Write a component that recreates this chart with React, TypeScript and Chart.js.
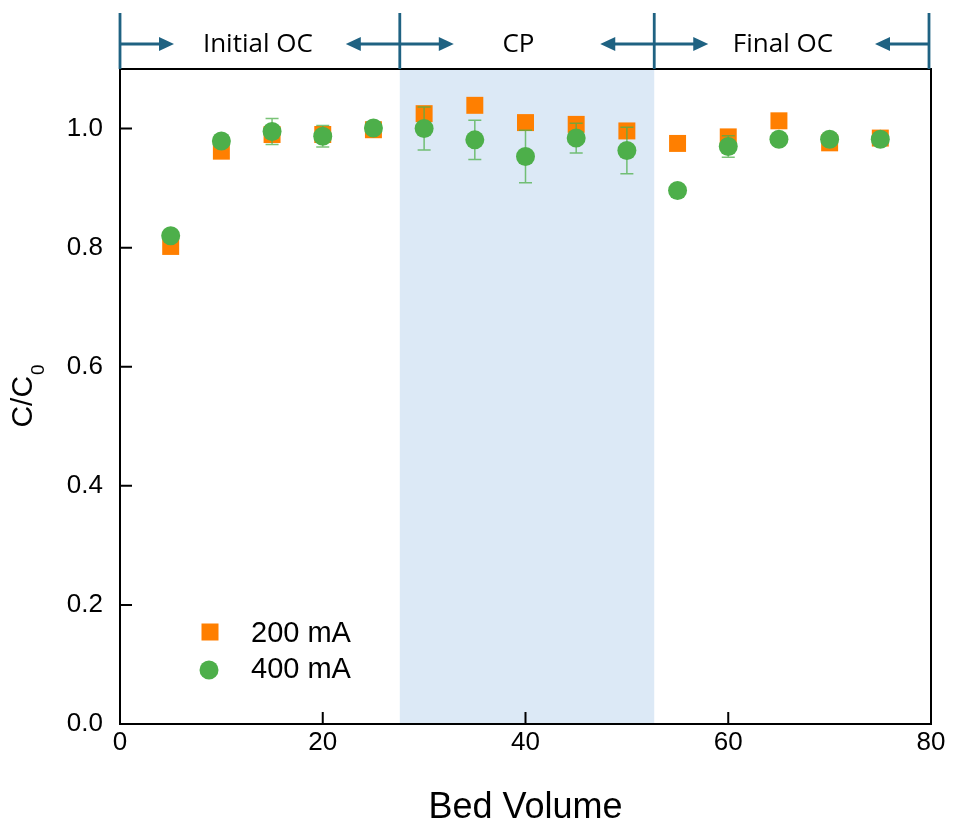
import React, { useEffect, useRef } from 'react';
import { Chart, registerables } from 'chart.js';

Chart.register(...registerables);

// ---- data ----
const bedVolume = [5, 10, 15, 20, 25, 30, 35, 40, 45, 50, 55, 60, 65, 70, 75];
const ma200 = [0.802, 0.962, 0.99, 0.99, 0.998, 1.025, 1.039, 1.01, 1.007, 0.996, 0.975, 0.986, 1.013, 0.976, 0.984];
const ma400 = [0.82, 0.979, 0.995, 0.987, 1.001, 1.0, 0.981, 0.953, 0.984, 0.963, 0.896, 0.97, 0.982, 0.982, 0.982];
const ma400Err = [0, 0, 0.022, 0.018, 0, 0.036, 0.033, 0.044, 0.025, 0.039, 0, 0.018, 0, 0, 0];
const seriesLabels = ['200 mA', '400 mA'];
const xTicks = [0, 20, 40, 60, 80];
const yTicks = [0, 0.2, 0.4, 0.6, 0.8, 1.0];
const phaseBounds = [0, 27.6, 52.7, 80];
const phaseLabels = ['Initial OC', 'CP', 'Final OC'];
const phaseLabelX = [13.6, 39.3, 65.4];
const xTitle = 'Bed Volume';
const yTitleMain = 'C/C';
const yTitleSub = '0';

const ORANGE = '#ff7f00';
const GREEN = '#4daf4a';
const SHADE = '#dce9f6';
const ANNOT = '#1f6282';
const FONT = "'Liberation Sans', Arial, sans-serif";

function arrowHead(ctx: CanvasRenderingContext2D, x: number, y: number, dir: number) {
  ctx.beginPath();
  ctx.moveTo(x, y);
  ctx.lineTo(x - dir * 15, y - 7);
  ctx.lineTo(x - dir * 15, y + 7);
  ctx.closePath();
  ctx.fill();
}

const decorPlugin = {
  id: 'decor',
  beforeDatasetsDraw(chart: any) {
    const { ctx, chartArea, scales } = chart;
    const x0 = scales.x.getPixelForValue(phaseBounds[1]);
    const x1 = scales.x.getPixelForValue(phaseBounds[2]);
    ctx.save();
    ctx.fillStyle = SHADE;
    ctx.fillRect(x0, chartArea.top, x1 - x0, chartArea.bottom - chartArea.top);
    ctx.restore();
  },
  afterDatasetDraw(chart: any, args: any) {
    if (args.index !== 0) return;
    const { ctx, scales } = chart;
    ctx.save();
    ctx.strokeStyle = 'rgba(77,175,74,0.75)';
    ctx.lineWidth = 1.5;
    bedVolume.forEach((bv, i) => {
      const e = ma400Err[i];
      if (!e) return;
      const px = scales.x.getPixelForValue(bv);
      const yt = scales.y.getPixelForValue(ma400[i] + e);
      const yb = scales.y.getPixelForValue(ma400[i] - e);
      ctx.beginPath();
      ctx.moveTo(px, yt);
      ctx.lineTo(px, yb);
      ctx.moveTo(px - 6.5, yt);
      ctx.lineTo(px + 6.5, yt);
      ctx.moveTo(px - 6.5, yb);
      ctx.lineTo(px + 6.5, yb);
      ctx.stroke();
    });
    ctx.restore();
  },
  afterDatasetsDraw(chart: any) {
    const { ctx, chartArea, scales } = chart;
    const { left, right, top, bottom } = chartArea;
    ctx.save();
    ctx.strokeStyle = '#000';
    ctx.lineWidth = 2;
    ctx.strokeRect(left, top, right - left, bottom - top);
    ctx.beginPath();
    yTicks.forEach((v) => {
      const py = scales.y.getPixelForValue(v);
      ctx.moveTo(left, py);
      ctx.lineTo(left + 12, py);
    });
    xTicks.forEach((v) => {
      const px = scales.x.getPixelForValue(v);
      ctx.moveTo(px, bottom);
      ctx.lineTo(px, bottom - 12);
    });
    ctx.stroke();
    ctx.restore();
  },
  afterDraw(chart: any) {
    const { ctx, chartArea, scales } = chart;
    const { left, right, top, bottom } = chartArea;
    ctx.save();
    // phase annotation
    ctx.strokeStyle = ANNOT;
    ctx.fillStyle = ANNOT;
    ctx.lineWidth = 2.8;
    const ay = 44;
    const bx = phaseBounds.map((v) => scales.x.getPixelForValue(v));
    bx.forEach((px, i) => {
      const xx = i === bx.length - 1 ? px - 2 : px;
      ctx.beginPath();
      ctx.moveTo(xx, 13);
      ctx.lineTo(xx, top);
      ctx.stroke();
    });
    for (let i = 0; i < phaseLabels.length; i++) {
      const a = bx[i];
      const b = i === phaseLabels.length - 1 ? bx[i + 1] - 2 : bx[i + 1];
      const len = 54;
      ctx.beginPath();
      ctx.moveTo(a, ay);
      ctx.lineTo(a + len - 8, ay);
      ctx.moveTo(b, ay);
      ctx.lineTo(b - len + 8, ay);
      ctx.stroke();
      arrowHead(ctx, a + len, ay, 1);
      arrowHead(ctx, b - len, ay, -1);
    }
    ctx.fillStyle = '#000';
    ctx.font = "26px 'Open Sans', sans-serif";
    ctx.textAlign = 'center';
    ctx.textBaseline = 'middle';
    phaseLabels.forEach((t, i) => {
      ctx.fillText(t, scales.x.getPixelForValue(phaseLabelX[i]), 45);
    });

    // x title
    ctx.fillStyle = '#000';
    ctx.font = `36px ${FONT}`;
    ctx.textAlign = 'center';
    ctx.textBaseline = 'alphabetic';
    ctx.fillText(xTitle, (left + right) / 2, 818);

    // y title
    ctx.save();
    ctx.translate(24, (top + bottom) / 2);
    ctx.rotate(-Math.PI / 2);
    ctx.font = `30px ${FONT}`;
    const w1 = ctx.measureText(yTitleMain).width;
    ctx.font = `19px ${FONT}`;
    const w2 = ctx.measureText(yTitleSub).width;
    const sx = -(w1 + w2) / 2;
    ctx.textAlign = 'left';
    ctx.textBaseline = 'middle';
    ctx.font = `30px ${FONT}`;
    ctx.fillText(yTitleMain, sx, 0);
    ctx.font = `19px ${FONT}`;
    ctx.fillText(yTitleSub, sx + w1 + 1, 15);
    ctx.restore();

    // legend
    ctx.fillStyle = ORANGE;
    ctx.fillRect(210 - 8.5, 632 - 8.5, 17, 17);
    ctx.fillStyle = GREEN;
    ctx.beginPath();
    ctx.arc(209, 670, 9.5, 0, Math.PI * 2);
    ctx.fill();
    ctx.fillStyle = '#000';
    ctx.font = `29px ${FONT}`;
    ctx.textAlign = 'left';
    ctx.textBaseline = 'middle';
    ctx.fillText(seriesLabels[0], 251, 634);
    ctx.fillText(seriesLabels[1], 251, 670);
    ctx.restore();
  },
};

export default function App() {
  const ref = useRef<HTMLCanvasElement>(null);
  useEffect(() => {
    const canvas = ref.current;
    if (!canvas) return;
    const chart = new Chart(canvas, {
      type: 'scatter',
      data: {
        datasets: [
          {
            label: seriesLabels[0],
            data: bedVolume.map((x, i) => ({ x, y: ma200[i] })),
            pointStyle: 'rect',
            pointRadius: 12,
            backgroundColor: ORANGE,
            borderWidth: 0,
            order: 1,
          },
          {
            label: seriesLabels[1],
            data: bedVolume.map((x, i) => ({ x, y: ma400[i] })),
            pointStyle: 'circle',
            pointRadius: 9.5,
            backgroundColor: GREEN,
            borderWidth: 0,
            order: 0,
          },
        ],
      },
      options: {
        responsive: false,
        animation: false,
        devicePixelRatio: 1,
        layout: { padding: { left: 0, top: 69, right: 22, bottom: 0 } },
        plugins: { legend: { display: false }, tooltip: { enabled: false } },
        scales: {
          x: {
            type: 'linear',
            min: 0,
            max: 80,
            afterBuildTicks: (s: any) => {
              s.ticks = xTicks.map((v) => ({ value: v }));
            },
            afterFit: (s: any) => {
              s.height = 99;
            },
            grid: { display: false, drawTicks: false },
            border: { display: false },
            ticks: {
              color: '#000',
              font: { family: FONT, size: 26 },
              padding: 3,
              maxRotation: 0,
              autoSkip: false,
              callback: (v: any) => String(v),
            },
          },
          y: {
            type: 'linear',
            min: 0,
            max: 1.1,
            afterBuildTicks: (s: any) => {
              s.ticks = yTicks.map((v) => ({ value: v }));
            },
            afterFit: (s: any) => {
              s.width = 120;
            },
            grid: { display: false, drawTicks: false },
            border: { display: false },
            ticks: {
              color: '#000',
              font: { family: FONT, size: 26 },
              padding: 17,
              autoSkip: false,
              callback: (v: any) => Number(v).toFixed(1),
            },
          },
        },
      },
      plugins: [decorPlugin],
    });
    return () => chart.destroy();
  }, []);
  return (
    <div style={{ position: 'absolute', left: 0, top: 0, width: 953, height: 823 }}>
      <canvas ref={ref} width={953} height={823} style={{ width: 953, height: 823, display: 'block' }} />
    </div>
  );
}
